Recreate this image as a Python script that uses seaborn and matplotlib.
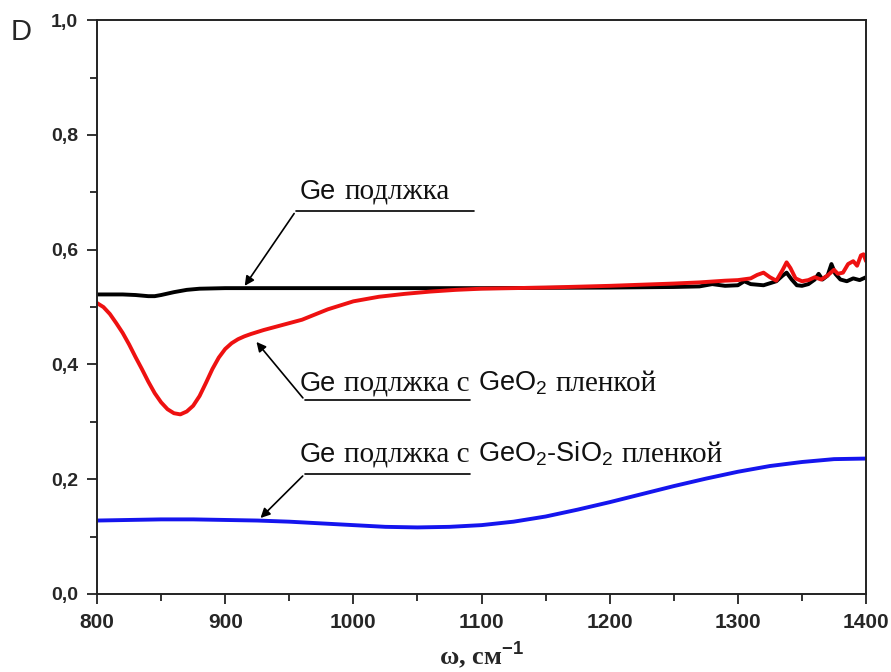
import numpy as np
import pandas as pd
import matplotlib
matplotlib.use("Agg")
import matplotlib.pyplot as plt
import seaborn as sns
from matplotlib.offsetbox import TextArea, HPacker, AnnotationBbox
from matplotlib.ticker import MultipleLocator, FuncFormatter


# data
ge_x = [800, 820, 830, 840, 845, 850, 860, 870, 880, 900, 1000, 1100, 1200, 1250,
        1270, 1280, 1290, 1300, 1305, 1310, 1320, 1330, 1335, 1338, 1342, 1346,
        1350, 1355, 1360, 1363, 1366, 1370, 1373, 1376, 1380, 1385, 1390, 1395, 1400]
ge_y = [0.522, 0.522, 0.521, 0.519, 0.519, 0.521, 0.526, 0.530, 0.532, 0.533, 0.533,
        0.533, 0.534, 0.535, 0.536, 0.540, 0.537, 0.538, 0.545, 0.540, 0.538, 0.545,
        0.555, 0.560, 0.548, 0.538, 0.537, 0.540, 0.548, 0.558, 0.548, 0.555, 0.575,
        0.558, 0.548, 0.545, 0.550, 0.547, 0.552]

geo2_x = [800, 805, 810, 815, 820, 825, 830, 835, 840, 845, 850, 855, 860, 865, 870,
          875, 880, 885, 890, 895, 900, 905, 910, 915, 920, 930, 940, 950, 960, 970,
          980, 990, 1000, 1020, 1040, 1060, 1080, 1100, 1150, 1200, 1250, 1270, 1290,
          1300, 1310, 1315, 1320, 1325, 1330, 1335, 1338, 1341, 1345, 1350, 1355, 1360,
          1365, 1370, 1375, 1378, 1382, 1386, 1390, 1393, 1396, 1398, 1400]
geo2_y = [0.507, 0.500, 0.488, 0.472, 0.455, 0.435, 0.413, 0.392, 0.370, 0.350, 0.334,
          0.322, 0.315, 0.313, 0.318, 0.328, 0.345, 0.368, 0.392, 0.412, 0.427, 0.437,
          0.444, 0.449, 0.453, 0.460, 0.466, 0.472, 0.478, 0.487, 0.496, 0.503, 0.510,
          0.518, 0.523, 0.527, 0.530, 0.532, 0.534, 0.537, 0.541, 0.543, 0.546, 0.547,
          0.550, 0.556, 0.560, 0.552, 0.546, 0.565, 0.578, 0.568, 0.550, 0.545, 0.547,
          0.552, 0.548, 0.555, 0.565, 0.558, 0.560, 0.575, 0.580, 0.572, 0.590, 0.592,
          0.580]

sio2_x = [800, 825, 850, 875, 900, 925, 950, 975, 1000, 1025, 1050, 1075, 1100, 1125,
          1150, 1175, 1200, 1225, 1250, 1275, 1300, 1325, 1350, 1375, 1400]
sio2_y = [0.128, 0.129, 0.130, 0.130, 0.129, 0.128, 0.126, 0.123, 0.120, 0.117, 0.116,
          0.117, 0.120, 0.126, 0.135, 0.147, 0.160, 0.174, 0.188, 0.201, 0.213, 0.223,
          0.230, 0.235, 0.236]

sns.set_theme(style="white")
plt.rcParams["mathtext.fontset"] = "custom"
plt.rcParams["mathtext.rm"] = "Liberation Sans"
plt.rcParams["mathtext.bf"] = "Liberation Sans:bold"
plt.rcParams["font.family"] = ["Liberation Sans", "DejaVu Sans"]

fig = plt.figure(figsize=(8.91, 6.72), dpi=100)
ax = fig.add_axes([0.1089, 0.1161, 0.972 - 0.1089, 0.970 - 0.1161])

for xs, ys, col in [(ge_x, ge_y, "black"), (geo2_x, geo2_y, "#ee1111"), (sio2_x, sio2_y, "#1515ee")]:
    df = pd.DataFrame({"w": xs, "D": ys})
    sns.lineplot(data=df, x="w", y="D", color=col, lw=2.8, ax=ax)

ax.set_xlim(800, 1400)
ax.set_ylim(0, 1.0)
ax.xaxis.set_major_locator(MultipleLocator(100))
ax.xaxis.set_minor_locator(MultipleLocator(50))
ax.yaxis.set_major_locator(MultipleLocator(0.2))
ax.yaxis.set_minor_locator(MultipleLocator(0.1))
ax.yaxis.set_major_formatter(FuncFormatter(lambda v, p: f"{v:.1f}".replace(".", ",")))
ax.tick_params(which="both", direction="out", left=True, bottom=True, width=1.3, color="#222222")
ax.tick_params(which="major", length=7.5)
ax.tick_params(which="minor", length=5)
ax.tick_params(axis="x", labelsize=15, pad=6)
ax.tick_params(axis="y", labelsize=14, pad=6)
for lab in ax.get_xticklabels() + ax.get_yticklabels():
    lab.set_fontweight("bold")
for s in ax.spines.values():
    s.set_color("#222222")
    s.set_linewidth(1.4)

ax.set_ylabel("")
ax.set_xlabel(r"ω, см$^{\mathbf{-1}}$", family="Liberation Serif", fontweight="bold", fontsize=19, labelpad=6)
fig.text(0.012, 0.94, "D", fontsize=21, family="Liberation Sans", va="baseline")


def label(parts, xy):
    boxes = []
    for t, f in parts:
        size = 21 if f == "Liberation Serif" else 19.5
        boxes.append(TextArea(t, textprops=dict(family=f, size=size, color="#111111")))
    pack = HPacker(children=boxes, align="baseline", pad=0, sep=6)
    ab = AnnotationBbox(pack, xy, xycoords="data", frameon=False, box_alignment=(0, 0), pad=0)
    ax.add_artist(ab)


# annotations: text, leader line and arrow
label([("Ge", "Liberation Sans"), ("подлжка", "Liberation Serif")], (958, 0.678))
ax.plot([955, 1094], [0.667, 0.667], color="black", lw=1.2)
ax.annotate("", xy=(914, 0.533), xytext=(955, 0.667),
            arrowprops=dict(arrowstyle="-|>", color="black", lw=1.2, mutation_scale=14))

label([("Ge", "Liberation Sans"), ("подлжка с", "Liberation Serif"),
       (r"GeO$_2$", "Liberation Sans"), ("пленкой", "Liberation Serif")], (958, 0.343))
ax.plot([962, 1091], [0.338, 0.338], color="black", lw=1.2)
ax.annotate("", xy=(923, 0.443), xytext=(962, 0.338),
            arrowprops=dict(arrowstyle="-|>", color="black", lw=1.2, mutation_scale=14))

label([("Ge", "Liberation Sans"), ("подлжка с", "Liberation Serif"),
       (r"GeO$_2$-SiO$_2$", "Liberation Sans"), ("пленкой", "Liberation Serif")], (958, 0.219))
ax.plot([962, 1091], [0.209, 0.209], color="black", lw=1.2)
ax.annotate("", xy=(926, 0.129), xytext=(962, 0.209),
            arrowprops=dict(arrowstyle="-|>", color="black", lw=1.2, mutation_scale=14))

fig.savefig("out.png", dpi=100)
